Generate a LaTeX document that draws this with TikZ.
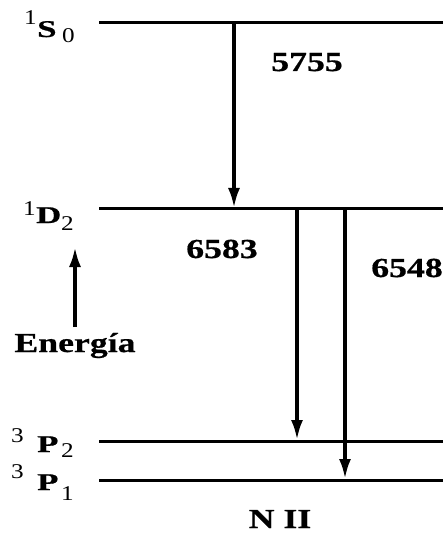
\documentclass[tikz,border=0pt]{standalone}
\usepackage{fontspec}
\setmainfont{Liberation Serif}
\newfontfamily\widefont[FakeStretch=1.45,FakeBold=0.6]{Liberation Serif}
\newfontfamily\lblfont[FakeStretch=1.3,FakeBold=0.6]{Liberation Serif}
\newfontfamily\digfont[FakeStretch=1.2]{Liberation Serif}
\usetikzlibrary{arrows.meta}
\begin{document}
\begin{tikzpicture}[x=1pt,y=-1pt,
  level/.style={line width=3pt},
  trans/.style={line width=3.5pt,-{Latex[length=20pt,width=12pt]}},
  lab/.style={font=\lblfont\fontsize{27.5}{29}\selectfont\bfseries,inner sep=0pt,anchor=base},
  big/.style={font=\widefont\fontsize{24}{26}\selectfont\bfseries,inner sep=0pt,anchor=base west},
  small/.style={font=\digfont\fontsize{21}{23}\selectfont,inner sep=0pt,anchor=base west}]
\useasboundingbox (0,0) rectangle (445,534);
% levels
\coordinate (S0a) at (99,23);  \coordinate (S0b) at (443,23);
\coordinate (D2a) at (99,209); \coordinate (D2b) at (443,209);
\coordinate (P2a) at (99,441); \coordinate (P2b) at (443,441);
\coordinate (P1a) at (99,480); \coordinate (P1b) at (443,480);
\draw[level] (S0a) -- (S0b);
\draw[level] (D2a) -- (D2b);
\draw[level] (P2a) -- (P2b);
\draw[level] (P1a) -- (P1b);
% transition endpoints
\coordinate (t1s) at (234,23);  \coordinate (t1e) at (234,208);
\coordinate (t2s) at (297,209); \coordinate (t2e) at (297,440);
\coordinate (t3s) at (345,209); \coordinate (t3e) at (345,479);
\draw[trans] (t1s) -- (t1e);
\draw[trans] (t2s) -- (t2e);
\draw[trans] (t3s) -- (t3e);
% wavelengths
\node[lab] (w1) at (307,71) {5755};
\node[lab] (w2) at (222,258) {6583};
\node[lab] (w3) at (407,277) {6548};
% level labels
\node[small] (sS) at (24,25) {1};
\node[big]   (mS) at (37,37) {S};
\node[small] (bS) at (62,43) {0};
\node[small] (sD) at (23,215) {1};
\node[big]   (mD) at (36,223) {D};
\node[small] (bD) at (61,230) {2};
\node[small] (sP2) at (11,442) {3};
\node[big]   (mP2) at (37,452) {P};
\node[small] (bP2) at (61,457) {2};
\node[small] (sP1) at (11,478) {3};
\node[big]   (mP1) at (37,490) {P};
\node[small] (bP1) at (61,500) {1};
% energy arrow
\coordinate (eb) at (75,327);
\coordinate (et) at (75,247);
\draw[trans] (eb) -- (et);
\node[lab] (en) at (75,352) {Energía};
\node[lab] (nii) at (280,528) {N II};
\end{tikzpicture}
\end{document}
